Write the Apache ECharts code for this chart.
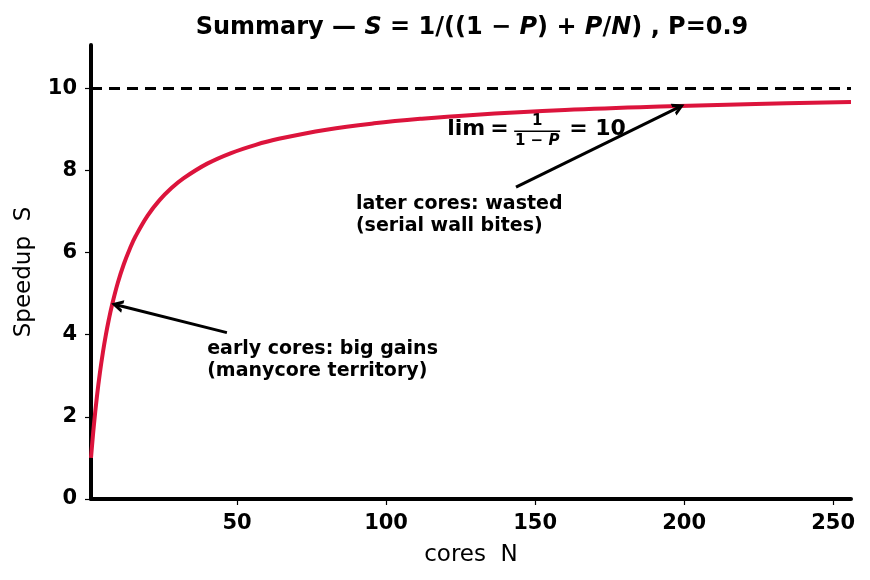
<!DOCTYPE html>
<html>
<head>
<meta charset="utf-8">
<script src="https://cdn.jsdelivr.net/npm/echarts@6/dist/echarts.min.js"></script>
<style>html,body{margin:0;padding:0;background:#fff}#c{width:870px;height:580px}</style>
</head>
<body>
<div id="c"></div>
<script>
// ---- data ----
const cores = [1,2,3,4,5,6,7,8,10,12,14,16,20,24,28,32,40,48,56,64,80,96,112,128,160,192,224,256];
const speedup = [1.000,1.818,2.500,3.077,3.571,4.000,4.375,4.706,5.263,5.714,6.087,6.400,6.897,7.273,7.568,7.805,8.163,8.421,8.615,8.767,8.989,9.143,9.256,9.343,9.467,9.552,9.614,9.660];
const limitValue = 10;
const xTicks = [50,100,150,200,250];
const yTicks = [0,2,4,6,8,10];
const earlyArrow = [[46.6,4.05],[9.7,4.72]];
const lateArrow = [[143.6,7.59],[198.3,9.54]];
const earlyText = {x:38.3, y:2.73, text:'early cores: big gains\n(manycore territory)'};
const lateText = {x:88.2, y:6.25, text:'later cores: wasted\n(serial wall bites)'};
const limAnchor = [120.5, 9.0];

const FONT = 'DejaVu Sans';
const chart = echarts.init(document.getElementById('c'), null, {renderer:'canvas'});
const series = cores.map((n,i)=>[n, speedup[i]]);
const chevron = 'path://M0,10 L5,0 L10,10 L7.4,10 L5,5 L2.6,10 Z';

const option = {
  animation:false,
  backgroundColor:'#fff',
  title:{
    left:467, textAlign:'center', top:11,
    text:'{b|Summary — }{bi|S}{b| = 1/((1 − }{bi|P}{b|) + }{bi|P}{b|/}{bi|N}{b|) , P=0.9}',
    textStyle:{
      rich:{
        b:{fontFamily:FONT,fontWeight:'bold',fontSize:24,color:'#000'},
        bi:{fontFamily:FONT,fontWeight:'bold',fontStyle:'italic',fontSize:24,color:'#000'}
      }
    }
  },
  grid:{left:91,right:19,top:45,bottom:81,containLabel:false},
  xAxis:{
    type:'value', min:1, max:256,
    name:'cores  N', nameLocation:'middle', nameGap:45,
    nameTextStyle:{fontFamily:FONT,fontSize:23,color:'#000'},
    axisLine:{show:true,lineStyle:{color:'#000',width:4}},
    axisTick:{show:true,length:6,lineStyle:{color:'#000',width:1.2},customValues:xTicks},
    axisLabel:{customValues:xTicks,fontFamily:FONT,fontWeight:'bold',fontSize:21,color:'#000',margin:14},
    splitLine:{show:false}
  },
  yAxis:{
    type:'value', min:0, max:11.05,
    name:'Speedup  S', nameLocation:'middle', nameGap:55, nameRotate:90,
    nameTextStyle:{fontFamily:FONT,fontSize:23,color:'#000'},
    axisLine:{show:true,lineStyle:{color:'#000',width:4}},
    axisTick:{show:true,length:6,lineStyle:{color:'#000',width:1.2},customValues:yTicks},
    axisLabel:{customValues:yTicks,fontFamily:FONT,fontWeight:'bold',fontSize:21,color:'#000',margin:14},
    splitLine:{show:false}
  },
  series:[
    {
      type:'line', data:series, smooth:0.4, showSymbol:false, silent:true,
      lineStyle:{color:'#DC143C',width:4},
      z:3,
      markLine:{
        silent:true, symbol:['none','none'],
        label:{show:false},
        lineStyle:{color:'#000',width:2.8,type:[11,7]},
        data:[{yAxis:limitValue}]
      }
    },
    {
      type:'line', data:[], silent:true,
      markLine:{
        silent:true, symbol:['none',chevron], symbolSize:[13,12],
        label:{show:false},
        lineStyle:{color:'#000',width:3,type:'solid'},
        itemStyle:{color:'#000'},
        data:[
          [{coord:earlyArrow[0]},{coord:earlyArrow[1]}],
          [{coord:lateArrow[0]},{coord:lateArrow[1]}]
        ]
      },
      markPoint:{
        symbol:'circle', symbolSize:0, silent:true,
        label:{show:true,position:'insideBottomLeft',align:'left',verticalAlign:'bottom',
          fontFamily:FONT,fontWeight:'bold',fontSize:19,lineHeight:22,color:'#000',offset:[0,0]},
        data:[
          {coord:[earlyText.x,earlyText.y],value:earlyText.text,label:{formatter:earlyText.text}},
          {coord:[lateText.x,lateText.y],value:lateText.text,label:{formatter:lateText.text}}
        ]
      }
    }
  ]
};
chart.setOption(option);

const p = chart.convertToPixel({gridIndex:0}, limAnchor);
chart.setOption({
  graphic:[{
    type:'group', x:p[0], y:p[1], z:10, silent:true,
    children:[
      {type:'text',x:0,y:0,style:{text:'lim',fill:'#000',verticalAlign:'middle',align:'left',fontFamily:FONT,fontWeight:'bold',fontSize:22}},
      {type:'text',x:43,y:0,style:{text:'=',fill:'#000',verticalAlign:'middle',align:'left',fontFamily:FONT,fontWeight:'bold',fontSize:22}},
      {type:'text',x:90,y:-8,style:{text:'1',fill:'#000',verticalAlign:'middle',align:'center',fontFamily:FONT,fontWeight:'bold',fontSize:15}},
      {type:'line',shape:{x1:67,y1:2,x2:113,y2:2},style:{stroke:'#000',lineWidth:1.5}},
      {type:'text',x:90,y:12,style:{text:'{b|1 − }{i|P}',fill:'#000',verticalAlign:'middle',align:'center',
        rich:{b:{fontFamily:FONT,fontWeight:'bold',fontSize:15,fill:'#000'},i:{fontFamily:FONT,fontWeight:'bold',fontStyle:'italic',fontSize:15,fill:'#000'}}}},
      {type:'text',x:122,y:0,style:{text:'= 10',fill:'#000',verticalAlign:'middle',align:'left',fontFamily:FONT,fontWeight:'bold',fontSize:22}}
    ]
  }]
});
</script>
</body>
</html>
